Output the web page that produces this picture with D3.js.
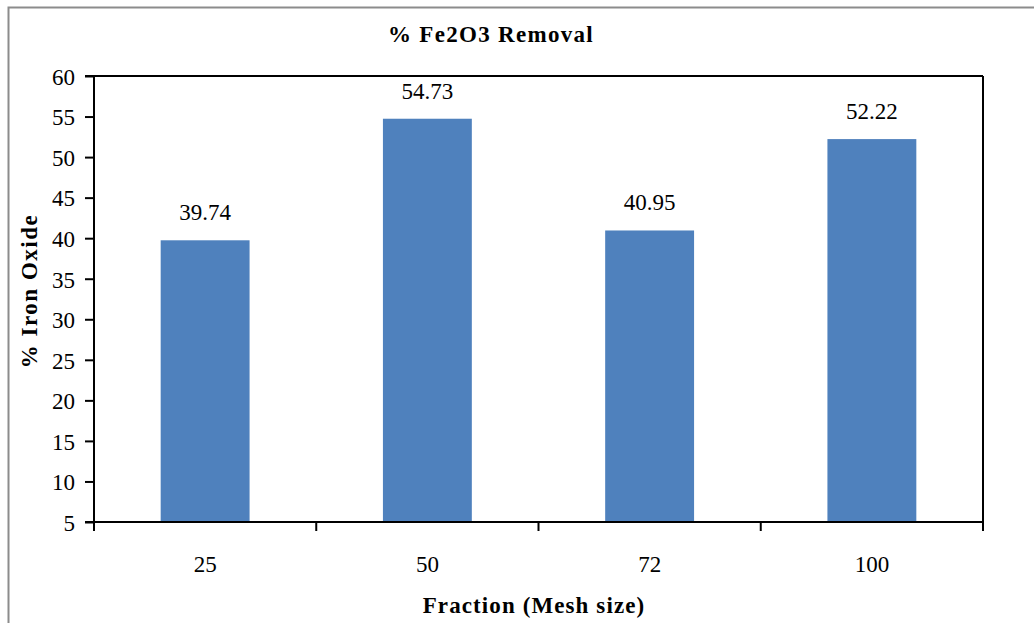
<!DOCTYPE html>
<html><head><meta charset="utf-8">
<script src="https://cdn.jsdelivr.net/npm/d3@7"></script>
<style>body{margin:0;background:#fff}svg{display:block}text{font-family:"Liberation Serif","Times New Roman",serif;fill:#000}</style>
</head><body>
<script>
const categories = ["25", "50", "72", "100"];
const values = [39.74, 54.73, 40.95, 52.22];
const yTicks = [5, 10, 15, 20, 25, 30, 35, 40, 45, 50, 55, 60];
const title = "% Fe2O3 Removal";
const xTitle = "Fraction (Mesh size)";
const yTitle = "% Iron Oxide";

const W = 1034, H = 623;
const m = {left: 94, top: 76, right: 983, bottom: 522};
const svg = d3.select("body").append("svg").attr("width", W).attr("height", H);

svg.append("rect").attr("x", 8.5).attr("y", 7.5).attr("width", 1040).attr("height", 640)
  .attr("fill", "#fff").attr("stroke", "#8c8c8c").attr("stroke-width", 2);

const x = d3.scaleBand().domain(categories).range([m.left, m.right]).padding(0);
const y = d3.scaleLinear().domain([5, 60]).range([m.bottom, m.top]);

const bw = x.bandwidth() * 0.4;
svg.selectAll("rect.bar").data(values).join("rect").attr("class", "bar")
  .attr("x", (d, i) => x(categories[i]) + x.bandwidth() / 2 - bw / 2)
  .attr("width", bw)
  .attr("y", d => y(d))
  .attr("height", d => y(5) - y(d))
  .attr("fill", "#4F81BD");

svg.selectAll("text.val").data(values).join("text").attr("class", "val")
  .attr("x", (d, i) => x(categories[i]) + x.bandwidth() / 2)
  .attr("y", d => y(d) - 20)
  .attr("text-anchor", "middle").attr("font-size", 23)
  .text(d => d.toFixed(2));

// plot frame top & right
svg.append("line").attr("x1", m.left).attr("x2", m.right).attr("y1", m.top).attr("y2", m.top).attr("stroke", "#000").attr("stroke-width", 2);
svg.append("line").attr("x1", m.right).attr("x2", m.right).attr("y1", m.top).attr("y2", m.bottom).attr("stroke", "#000").attr("stroke-width", 2);

// y axis
const yAxis = d3.axisLeft(y).tickValues(yTicks).tickSize(9).tickPadding(10).tickFormat(d3.format("d"));
const gy = svg.append("g").attr("transform", `translate(${m.left},0)`).call(yAxis);
gy.select(".domain").attr("stroke", "#000").attr("stroke-width", 2).attr("d", `M-9,${m.top}H0V${m.bottom}`);
gy.selectAll(".tick line").attr("stroke", "#000").attr("stroke-width", 2);
gy.selectAll(".tick text").attr("font-size", 23).attr("font-family", "Liberation Serif").attr("fill", "#000").attr("dy", "0.36em");

// x axis
const gx = svg.append("g").attr("transform", `translate(0,${m.bottom})`);
gx.append("line").attr("x1", m.left - 9).attr("x2", m.right).attr("stroke", "#000").attr("stroke-width", 2);
const bounds = categories.map(c => x(c)).concat([m.right]);
gx.selectAll("line.tk").data(bounds).join("line").attr("class", "tk")
  .attr("x1", d => d).attr("x2", d => d).attr("y1", 0).attr("y2", 9)
  .attr("stroke", "#000").attr("stroke-width", 2);
gx.selectAll("text").data(categories).join("text")
  .attr("x", d => x(d) + x.bandwidth() / 2).attr("y", 50)
  .attr("text-anchor", "middle").attr("font-size", 23).text(d => d);

svg.append("text").attr("x", 491).attr("y", 42).attr("text-anchor", "middle")
  .attr("font-size", 23).attr("font-weight", "bold").attr("letter-spacing", 1.3).text(title);
svg.append("text").attr("x", 534).attr("y", 613).attr("text-anchor", "middle")
  .attr("font-size", 23).attr("font-weight", "bold").attr("letter-spacing", 1.1).text(xTitle);
svg.append("text").attr("transform", `translate(37,${291}) rotate(-90)`)
  .attr("text-anchor", "middle").attr("font-size", 23).attr("font-weight", "bold").attr("letter-spacing", 1.5).text(yTitle);
</script>
</body></html>
